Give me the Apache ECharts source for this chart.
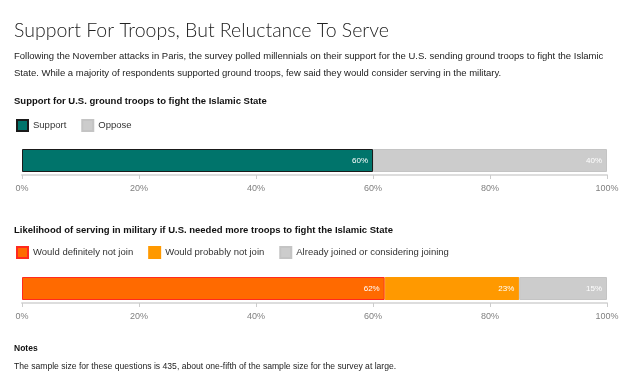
<!DOCTYPE html>
<html><head><meta charset="utf-8">
<script src="https://cdn.jsdelivr.net/npm/echarts@6/dist/echarts.min.js"></script>
<style>html,body{margin:0;padding:0;background:#fff}#c{width:630px;height:383px}</style>
</head><body><div id="c"></div>
<script>
const chart1Names = ['Support', 'Oppose'];
const chart1Values = [60, 40];
const chart2Names = ['Would definitely not join', 'Would probably not join', 'Already joined or considering joining'];
const chart2Values = [62, 23, 15];
const tickValues = [0, 20, 40, 60, 80, 100];

const chart1Colors = ['#00746b', '#cccccc'];
const chart1Borders = ['#1a1a1a', '#c4c4c4'];
const chart2Colors = ['#ff6a00', '#ff9900', '#cccccc'];
const chart2Borders = ['#ff2a1f', '#ff9900', '#c4c4c4'];

const FONT = '"Liberation Sans", Arial, sans-serif';
const el = document.getElementById('c');
const chart = echarts.init(el, null, {renderer: 'canvas'});

function xAx(gi) {
  return {
    gridIndex: gi, type: 'value', min: tickValues[0], max: tickValues[tickValues.length-1], interval: 20,
    offset: 3,
    axisLine: {show: true, lineStyle: {color: '#dddddd', width: 2}},
    axisTick: {show: true, length: 4, lineStyle: {color: '#cccccc'}},
    splitLine: {show: false},
    axisLabel: {color: '#808080', fontSize: 9, fontFamily: FONT, margin: 9, formatter: '{value}%'}
  };
}
function yAx(gi) {
  return {gridIndex: gi, type: 'category', data: [''], show: false};
}
const series = [];
chart1Names.forEach((n, i) => series.push({
  name: n, type: 'bar', stack: 's1', xAxisIndex: 0, yAxisIndex: 0, barWidth: 23,
  data: [chart1Values[i]],
  itemStyle: {color: chart1Colors[i], borderColor: chart1Borders[i], borderWidth: 1},
  label: {show: true, position: 'insideRight', formatter: '{c}%', color: '#fff', fontSize: 8, fontFamily: FONT, distance: 5},
  emphasis: {disabled: true}, animation: false
}));
chart2Names.forEach((n, i) => series.push({
  name: n, type: 'bar', stack: 's2', xAxisIndex: 1, yAxisIndex: 1, barWidth: 23,
  data: [chart2Values[i]],
  itemStyle: {color: chart2Colors[i], borderColor: chart2Borders[i], borderWidth: 1},
  label: {show: true, position: 'insideRight', formatter: '{c}%', color: '#fff', fontSize: 8, fontFamily: FONT, distance: 5},
  emphasis: {disabled: true}, animation: false
}));

const legendCommon = {
  icon: 'rect', itemWidth: 11, itemHeight: 11, itemGap: 15, selectedMode: false,
  textStyle: {color: '#333', fontSize: 9.5, fontFamily: FONT}, padding: 0
};

chart.setOption({
  animation: false,
  textStyle: {fontFamily: FONT},
  title: [
    {text: 'Support For Troops, But Reluctance To Serve', left: 14, top: 21, padding: 0,
     textStyle: {fontFamily: 'Lato, sans-serif', fontWeight: 300, fontSize: 19.5, color: '#222'}},
    {text: 'Following the November attacks in Paris, the survey polled millennials on their support for the U.S. sending ground troops to fight the Islamic\nState. While a majority of respondents supported ground troops, few said they would consider serving in the military.',
     left: 14, top: 48, padding: 0, textStyle: {fontFamily: FONT, fontWeight: 'normal', fontSize: 9.5, lineHeight: 17, color: '#222'}},
    {text: 'Support for U.S. ground troops to fight the Islamic State', left: 14, top: 96, padding: 0,
     textStyle: {fontFamily: FONT, fontWeight: 'bold', fontSize: 9.5, color: '#111'}},
    {text: 'Likelihood of serving in military if U.S. needed more troops to fight the Islamic State', left: 14, top: 225, padding: 0,
     textStyle: {fontFamily: FONT, fontWeight: 'bold', fontSize: 9.5, color: '#111'}},
    {text: 'Notes', left: 14, top: 344, padding: 0,
     textStyle: {fontFamily: FONT, fontWeight: 'bold', fontSize: 8.5, color: '#111'}},
    {text: 'The sample size for these questions is 435, about one-fifth of the sample size for the survey at large.', left: 14, top: 362, padding: 0,
     textStyle: {fontFamily: FONT, fontWeight: 'normal', fontSize: 8.6, color: '#222'}}
  ],
  legend: [
    Object.assign({}, legendCommon, {data: chart1Names, left: 16, top: 119}),
    Object.assign({}, legendCommon, {data: chart2Names, left: 16, top: 246})
  ],
  grid: [
    {left: 22, right: 23, top: 149, height: 23},
    {left: 22, right: 23, top: 277, height: 23}
  ],
  xAxis: [xAx(0), xAx(1)],
  yAxis: [yAx(0), yAx(1)],
  series: series
});
</script></body></html>
